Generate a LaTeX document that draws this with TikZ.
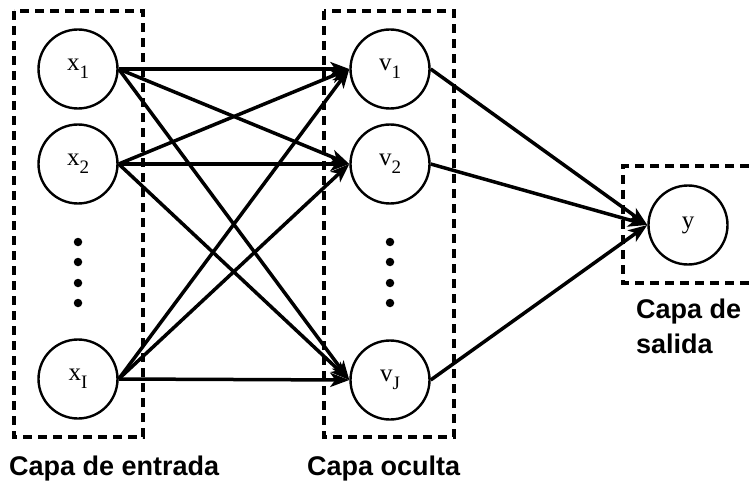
\documentclass[tikz,border=0pt]{standalone}
\usepackage{fontspec}
\setmainfont{Liberation Serif}
\newfontfamily\capfont{Liberation Sans}
\usetikzlibrary{arrows.meta}
\newcommand{\subx}[1]{\raisebox{-0.3em}{\fontsize{19}{19}\selectfont #1}}
\tikzset{
  neuron/.style={circle, draw, line width=2.4pt, minimum size=79pt, inner sep=0pt, font=\fontsize{25}{25}\selectfont},
  layerbox/.style={draw, line width=3.1pt, dash pattern=on 9pt off 6pt},
  conn/.style={line width=3.5pt, -{Stealth[length=19pt,width=14pt,inset=5pt]}},
  dotmark/.style={circle, fill, inner sep=0pt, minimum size=8.5pt},
  captext/.style={font=\capfont\bfseries\fontsize{27}{32}\selectfont, anchor=base west, inner sep=0pt, align=left}
}
\begin{document}
\begin{tikzpicture}[x=1pt,y=-1pt]
\useasboundingbox (0,0) rectangle (749,481);
% layer boxes
\draw[layerbox] (14,11) rectangle (143,437);
\draw[layerbox] (324,11) rectangle (454,437);
\draw[layerbox] (749,166) -- (623,166) -- (623,283) -- (749,283);
% neurons
\node[neuron] (x1) at (78,69) {x\subx{1}};
\node[neuron] (x2) at (78,164) {x\subx{2}};
\node[neuron] (xI) at (78,379) {x\subx{I}};
\node[neuron] (v1) at (390,69) {v\subx{1}};
\node[neuron] (v2) at (390,164) {v\subx{2}};
\node[neuron] (vJ) at (390,380) {v\subx{J}};
\node[neuron] (y) at (688,225) {y};
% dots
\foreach \yy [count=\i] in {242,262,283,303} {
  \node[dotmark] (dl\i) at (78,\yy) {};
  \node[dotmark] (dh\i) at (390,\yy) {};
}
% connections
\foreach \s in {x1,x2,xI} {
  \foreach \t in {v1,v2,vJ} {
    \draw[conn] (\s.east) -- (\t.west);
  }
}
\foreach \s in {v1,v2,vJ} {
  \draw[conn] (\s.east) -- (y.west);
}
% captions
\node[captext] (c1) at (9,475) {Capa de entrada};
\node[captext] (c2) at (307,475) {Capa oculta};
\node[captext] (c3) at (636,318) {Capa de};
\node[captext] (c4) at (636,353) {salida};
\end{tikzpicture}
\end{document}
